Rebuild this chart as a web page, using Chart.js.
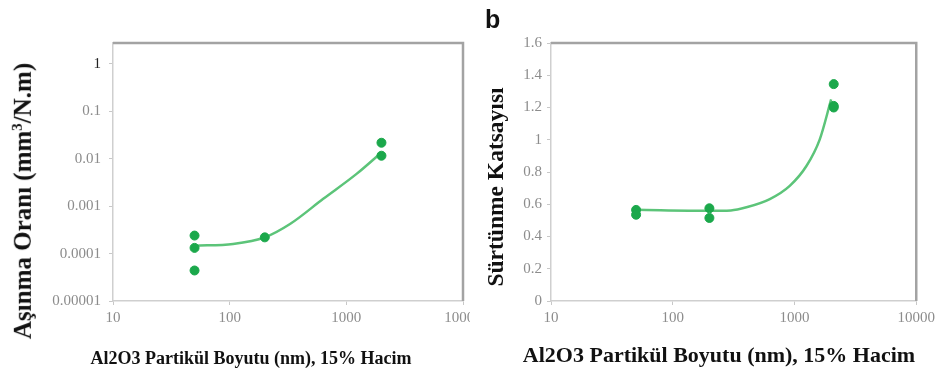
<!DOCTYPE html>
<html>
<head>
<meta charset="utf-8">
<script src="https://cdn.jsdelivr.net/npm/chart.js@4"></script>
<style>
  body { margin: 0; background: #fff; width: 939px; height: 370px; overflow: hidden; position: relative; }
  .panel { position: absolute; top: 0; height: 370px; }
  #leftWrap { left: 0; width: 470px; overflow: hidden; }
  #leftBox { position: absolute; left: 0; top: 0; width: 495px; height: 370px; }
  #rightWrap { left: 470px; width: 469px; }
  .lbl { position: absolute; font-family: "Liberation Serif", "Times New Roman", serif; font-weight: bold; color: #111; white-space: nowrap; transform: translate(-50%, -50%); }
  .rot { transform: translate(-50%, -50%) rotate(-90deg); }
  #panelB { position: absolute; left: 485px; top: 5px; font-family: "Liberation Sans", Arial, sans-serif; font-weight: bold; font-size: 25px; color: #111; }
</style>
</head>
<body>
<div class="panel" id="leftWrap"><div id="leftBox"><canvas id="wearChart"></canvas></div></div>
<div class="panel" id="rightWrap"><canvas id="frictionChart"></canvas></div>

<div class="lbl rot" style="left:23px; top:201px; font-size:25px;">Aşınma Oranı (mm<sup style="font-size:15px">3</sup>/N.m)</div>
<div class="lbl" style="left:251px; top:358px; font-size:18px;">Al2O3 Partikül Boyutu (nm), 15% Hacim</div>
<div class="lbl rot" style="left:495px; top:187px; font-size:23.5px;">Sürtünme Katsayısı</div>
<div class="lbl" style="left:719px; top:355px; font-size:22px;">Al2O3 Partikül Boyutu (nm), 15% Hacim</div>
<div id="panelB">b</div>

<script>
// particle size ticks (log x axis, shared by both panels)
const sizeTicks = [10, 100, 1000, 10000];

// wear rate panel (log y)
const wearTicks = [0.00001, 0.0001, 0.001, 0.01, 0.1, 1];
const wearSize = [50, 50, 50, 200, 2000, 2000];
const wearRate = [0.00024, 0.000132, 0.000044, 0.00022, 0.0218, 0.0116];
const wearFitSize = [50, 107, 200, 329, 634, 1224, 2000];
const wearFitRate = [0.000147, 0.00016, 0.00022, 0.00042, 0.00143, 0.0048, 0.0136];

// friction coefficient panel (linear y)
const frictionSize = [50, 50, 200, 200, 2100, 2100, 2100];
const frictionCoef = [0.565, 0.535, 0.575, 0.515, 1.345, 1.21, 1.2];
const frictionFitSize = [50, 200, 300, 403, 627, 914, 1253, 1610, 2000];
const frictionFitCoef = [0.566, 0.56, 0.562, 0.581, 0.632, 0.714, 0.837, 1.001, 1.25];

const dotColor = '#1ba84b';
const lineColor = '#5cc479';
const tickFont = { family: 'Liberation Serif', size: 15 };
const tickGray = '#8c8c8c';

const toPoints = (xs, ys) => xs.map((x, i) => ({ x: x, y: ys[i] }));

// draws the darker top and right edges of the plot frame
const framePlugin = {
    id: 'frame',
    afterDraw(chart) {
        const { ctx, chartArea: a } = chart;
        ctx.save();
        ctx.strokeStyle = '#a3a3a3';
        ctx.lineWidth = 2.5;
        ctx.beginPath();
        ctx.moveTo(a.left, a.top);
        ctx.lineTo(a.right, a.top);
        ctx.lineTo(a.right, a.bottom);
        ctx.stroke();
        ctx.restore();
    }
};

function sizeAxis(height) {
    return {
        type: 'logarithmic',
        min: 10,
        max: 10000,
        afterBuildTicks: (scale) => { scale.ticks = sizeTicks.map(v => ({ value: v })); },
        afterFit: (scale) => { scale.height = height; },
        ticks: {
            font: tickFont,
            color: tickGray,
            padding: 4,
            maxRotation: 0,
            callback: (v) => String(v)
        },
        grid: { drawOnChartArea: false, tickLength: 4, color: '#c8c8c8' },
        border: { color: '#cfcfcf', width: 1.5 }
    };
}

function makeChart(canvasId, yAxis, padding, points, fit) {
    return new Chart(document.getElementById(canvasId), {
        type: 'scatter',
        data: {
            datasets: [
                {
                    data: points,
                    backgroundColor: dotColor,
                    borderColor: dotColor,
                    pointRadius: 4.5,
                    pointHoverRadius: 4.5
                },
                {
                    data: fit,
                    showLine: true,
                    borderColor: lineColor,
                    borderWidth: 2.5,
                    pointRadius: 0,
                    cubicInterpolationMode: 'monotone'
                }
            ]
        },
        options: {
            responsive: true,
            maintainAspectRatio: false,
            animation: false,
            layout: { padding: padding },
            plugins: { legend: { display: false }, tooltip: { enabled: false } },
            scales: { x: sizeAxis(69 - padding.bottom), y: yAxis }
        },
        plugins: [framePlugin]
    });
}

makeChart('wearChart', {
    type: 'logarithmic',
    min: 0.00001,
    max: 2.77,
    afterBuildTicks: (scale) => { scale.ticks = wearTicks.map(v => ({ value: v })); },
    afterFit: (scale) => { scale.width = 113; },
    ticks: {
        font: tickFont,
        color: (ctx) => ctx.tick && ctx.tick.value === 1 ? '#222' : tickGray,
        padding: 8,
        callback: (v) => wearTicks.includes(v) ? String(v).replace('1e-5', '0.00001') : ''
    },
    grid: { drawOnChartArea: false, tickLength: 4, color: '#c8c8c8' },
    border: { color: '#cfcfcf', width: 1.5 }
}, { top: 43, right: 32, bottom: 0, left: 0 },
   toPoints(wearSize, wearRate), toPoints(wearFitSize, wearFitRate));

makeChart('frictionChart', {
    type: 'linear',
    min: 0,
    max: 1.6,
    afterFit: (scale) => { scale.width = 81; },
    ticks: {
        font: tickFont,
        color: tickGray,
        padding: 5,
        stepSize: 0.2,
        callback: (v) => String(Number(v.toFixed(1)))
    },
    grid: { drawOnChartArea: false, tickLength: 4, color: '#c8c8c8' },
    border: { color: '#cfcfcf', width: 1.5 }
}, { top: 43, right: 22, bottom: 2, left: 0 },
   toPoints(frictionSize, frictionCoef), toPoints(frictionFitSize, frictionFitCoef));
</script>
</body>
</html>
